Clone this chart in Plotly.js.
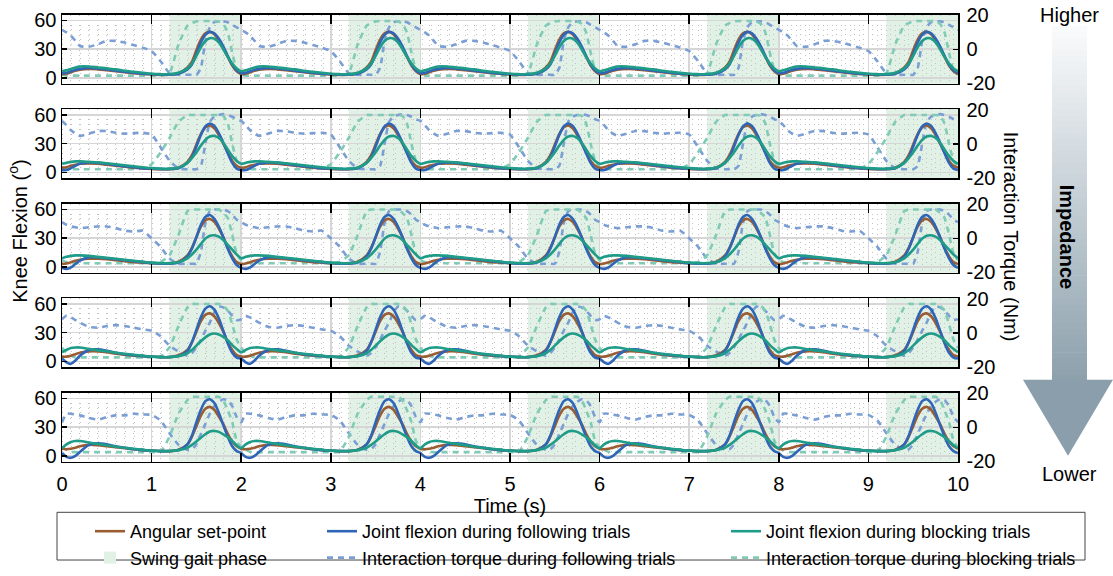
<!DOCTYPE html>
<html><head><meta charset="utf-8">
<script src="https://cdn.plot.ly/plotly-3.0.1.min.js"></script>
<style>html,body{margin:0;padding:0;background:#fff}#chart{width:1113px;height:576px}</style>
</head><body><div id="chart"></div>
<script>
// ---------- DATA (one gait cycle; the 10 s record repeats it every 2 s) ----------
const cyclePeriod = 2;
const nCycles = 5;
const cycleT = [0,0.05,0.1,0.15,0.2,0.3,0.4,0.5,0.6,0.7,0.8,0.9,1.0,1.1,1.2,1.3,1.4,1.45,1.5,1.55,1.6,1.65,1.7,1.75,1.8,1.85,1.9,1.95];

// Panel 1 (highest impedance)
const setP1      = [4,4.5,6,7.5,8.5,9.5,9,8,7,6,5,4.3,3.7,3.3,3.5,5,11,17,29,40,46.5,48,45.5,39,31,22,13,7];
const followP1   = [5,5.5,7,8.5,9.5,10.5,10,9,7.5,6.5,5.5,4.5,4,3.5,3.5,4.5,9,14,25,37,45,48,46.5,41,33,23,14,8];
const blockP1    = [7,8,9.5,11,12,12,11,10,9,7.5,6.5,5.5,4.5,4,4,5.5,10,15,23,32,38.5,41.5,41,37,30,22,15,10];
const tqFollowP1 = [11.5,10,8,5,2,1.5,3,5,5,4,2.5,1,-1,-7,-14,-15,-15,-15,-15,-11,5,13,16,16.5,16.5,16,14.5,13];
const tqBlockP1  = [-15,-15.5,-15.5,-15.5,-15.5,-15.5,-15.5,-15.5,-15.5,-15.5,-15.5,-15.5,-15.5,-15.5,-14,3,14,15.5,16.5,16.7,16.7,16.7,16.7,16.5,15,10,-2,-12];
// Panel 2
const setP2      = [5,5.5,7,8,9,9.5,9,8,7,6,5,4.3,3.7,3.3,3.5,5,11,18,29,40,47,49,46,39,30,21,12,7];
const followP2   = [2.5,2.5,4.5,7,9,10.5,10,9,7.5,6.5,5.5,4.5,4,3.5,3.5,4.5,10,16,27,39,48,51,48.5,41,31,20,10,4];
const blockP2    = [9,10,11,11.5,11.5,11,10.5,9.5,8.5,7.5,6.5,5.5,4.5,4,4,5,10,15,21,28,34,37.5,38,36,31,24,17,12];
const tqFollowP2 = [13.5,11,8,6,4.7,6,7.6,7.5,6.5,6,6.3,6.5,5.5,-2,-10,-14.5,-15,-15,-15,-13,0,13,16,17,17.5,17,16,14.5];
const tqBlockP2  = [-14,-14.5,-15,-15,-15,-15,-15,-15,-15,-15,-15,-14.5,-12,-5,3.5,13,17,17,17,17,17,17,17,17,16.5,12,0,-10];
// Panel 3
const setP3      = [3,3.5,5,6.5,7.5,8.5,8.5,8,7,6,5,4.5,4,3.5,3.5,5.5,12,20,31,42,48.5,50,47,40,31,20,11,5];
const followP3   = [-1,-2,-0.5,3,6.5,10,10,9,8,7,6,5,4,3.5,3.5,4.5,11,19,31,44,52,54,50,42,31,19,9,2];
const blockP3    = [9,10.5,11.5,12,12,11.5,10.5,9.5,8.5,7.5,6.5,5.5,4.5,4,4,5,9,13,18,24,29.5,32.5,33,31.5,28,23,18,13];
const tqFollowP3 = [9.5,8,7,6.5,6,6.5,7,7,6,4.5,4,4.5,0,-5,-12,-15,-15,-15,-15,-8,9,16,17,17,17,16,14,11];
const tqBlockP3  = [-13,-14,-14.7,-14.7,-14.7,-14.7,-14.7,-14.7,-14.7,-14.7,-14.7,-14.7,-14.7,-14,-10,2,16,17,17,17,17,17,17,17,15,12,2,-9];
// Panel 4
const setP4      = [5,5,6,7.5,9,10.5,10.5,9.5,8,7,6,5.5,5,4.5,4.5,6.5,12,20,31,42,48.5,50,47,40,31,20,12,6.5];
const followP4   = [3,-1,-2.5,1,6,12,12.5,11,9,7.5,6.5,5.5,5,4.5,4.5,5.5,11,20,33,46,55,57.5,54,45,32,19,9,4];
const blockP4    = [9.5,12,14,14.5,14.5,13,11.5,10.5,9,8,7,6,5,4.5,4.5,5.5,8.5,12,16.5,21,25,28,29,28,25.5,22,17,13];
const tqFollowP4 = [8,10,9,7.5,6,3.5,3,4,4.5,4,3,2,1.2,-2,-7.6,-11,-13.5,-12,-8.6,-4,1.2,6,12,15.5,15,13,10,7.5];
const tqBlockP4  = [-9,-11.6,-13.5,-14.5,-14.5,-14.5,-14.5,-14.5,-14.5,-14.5,-14.5,-14.5,-14.5,-14,-8.6,4,15,17,17,17,17,17,17,17,16,13,5,-4];
// Panel 5 (lowest impedance)
const setP5      = [7.5,7,7.5,8.5,10,11.5,11,10,9,8,7,6,5.5,5,5,6.5,12,20,31,42,49,51,48,41,33,23,15,10];
const followP5   = [3,-1,-2,0,4,11.5,13,12,10,8.5,7,6,5.5,5,5,6,12,21,35,48,57,59,55,45,32,20,10,5];
const blockP5    = [8,12,14.5,15.5,15.5,14,12.5,11,9.5,8.5,7.5,6.5,5.5,5,5,6,8.5,11.5,15,19,22.5,25.5,26,25,22.5,19.5,15.5,11];
const tqFollowP5 = [3,8,8,7.5,7,5.5,4.5,6,7,7,8,7.5,7.3,4,-3.5,-10.4,-13.3,-13,-10,-4,2,8,12.5,15,16.5,16,12.5,6];
const tqBlockP5  = [-12,-13.3,-14.5,-14.7,-14.7,-14.7,-14.7,-14.7,-14.7,-14.7,-14.7,-14.7,-14.7,-14.5,-5.5,8,16,18,18,18,18,18,18,18,16,10,3,-8];

const swingStart = [1.2, 3.2, 5.2, 7.2, 9.2];
const swingEnd   = [2.0, 4.0, 6.0, 8.0, 10.0];

const kneeTicks = [0, 30, 60];
const torqueTickVals = [-20, 0, 20];
const torqueTickText = ['-20', '0', '20'];

const names = {
  set: 'Angular set-point',
  follow: 'Joint flexion during following trials',
  block: 'Joint flexion during blocking trials',
  swing: 'Swing gait phase',
  tqFollow: 'Interaction torque during following trials',
  tqBlock: 'Interaction torque during blocking trials'
};

// ---------- STYLE ----------
const FONT = 'Liberation Sans, Arial, Helvetica, sans-serif';
const C = {
  set: '#9a5c32', follow: '#2f65b6', block: '#1f9c88',
  tqFollow: '#7b9fd5', tqBlock: '#80cbb6', swing: 'rgb(226,241,229)',
  grid: '#d6d6d6', minor: '#c2c2c2'
};
const W = 1113, H = 576, ML = 62, MR = 155;
const PW = W - ML - MR;
const px2x = px => (px - ML) / PW;
const py2y = py => 1 - py / H;
const panelPx = [[15,86],[112,183],[209,280],[306,377],[403,474]];

const panels = [
  {set:setP1, follow:followP1, block:blockP1, tqF:tqFollowP1, tqB:tqBlockP1},
  {set:setP2, follow:followP2, block:blockP2, tqF:tqFollowP2, tqB:tqBlockP2},
  {set:setP3, follow:followP3, block:blockP3, tqF:tqFollowP3, tqB:tqBlockP3},
  {set:setP4, follow:followP4, block:blockP4, tqF:tqFollowP4, tqB:tqBlockP4},
  {set:setP5, follow:followP5, block:blockP5, tqF:tqFollowP5, tqB:tqBlockP5}
];

function tile(vals) {
  const x = [], y = [];
  for (let k = 0; k < nCycles; k++) {
    for (let j = 0; j < cycleT.length; j++) { x.push(cycleT[j] + k * cyclePeriod); y.push(vals[j]); }
  }
  x.push(nCycles * cyclePeriod); y.push(vals[0]);
  return {x, y};
}

const traces = [];
const layout = {
  width: W, height: H,
  margin: {l: ML, r: MR, t: 0, b: 0, pad: 0},
  paper_bgcolor: '#fff', plot_bgcolor: '#fff',
  font: {family: FONT, size: 20, color: '#000'},
  showlegend: true,
  hovermode: false,
  shapes: [], annotations: []
};

panels.forEach((p, i) => {
  const n = i + 1;
  const xa = n === 1 ? 'x' : 'x' + n;
  const yT = n === 1 ? 'y' : 'y' + n;     // torque (base, right)
  const yK = 'y' + (n + 5);                 // knee flexion (overlay, left)
  const first = i === 0;
  const dom = [py2y(panelPx[i][1]), py2y(panelPx[i][0])];

  const tf = tile(p.tqF), tb = tile(p.tqB);
  traces.push({x: tf.x, y: tf.y, xaxis: xa, yaxis: yT, type: 'scatter', mode: 'lines',
    name: names.tqFollow, legend: 'legend2', legendrank: 2, showlegend: first,
    line: {color: C.tqFollow, width: 2.6, dash: '6px,5px', shape: 'spline', smoothing: 0.5}});
  traces.push({x: tb.x, y: tb.y, xaxis: xa, yaxis: yT, type: 'scatter', mode: 'lines',
    name: names.tqBlock, legend: 'legend3', legendrank: 2, showlegend: first,
    line: {color: C.tqBlock, width: 2.6, dash: '6px,5px', shape: 'spline', smoothing: 0.5}});

  const s = tile(p.set), f = tile(p.follow), b = tile(p.block);
  traces.push({x: s.x, y: s.y, xaxis: xa, yaxis: yK, type: 'scatter', mode: 'lines',
    name: names.set, legend: 'legend', legendrank: 1, showlegend: first,
    line: {color: C.set, width: 2.6, shape: 'spline', smoothing: 0.8}});
  traces.push({x: f.x, y: f.y, xaxis: xa, yaxis: yK, type: 'scatter', mode: 'lines',
    name: names.follow, legend: 'legend2', legendrank: 1, showlegend: first,
    line: {color: C.follow, width: 2.6, shape: 'spline', smoothing: 0.8}});
  traces.push({x: b.x, y: b.y, xaxis: xa, yaxis: yK, type: 'scatter', mode: 'lines',
    name: names.block, legend: 'legend3', legendrank: 1, showlegend: first,
    line: {color: C.block, width: 2.6, shape: 'spline', smoothing: 0.8}});

  layout['xaxis' + (n === 1 ? '' : n)] = {
    domain: [0, 1], anchor: yT, range: [0, 10], matches: n === 1 ? undefined : 'x',
    tickmode: 'linear', tick0: 0, dtick: 1,
    ticks: 'inside', ticklen: 9, tickwidth: 1.5, tickcolor: '#000',
    showline: true, linecolor: '#000', linewidth: 1.5, mirror: 'ticks',
    showgrid: true, gridcolor: C.grid, gridwidth: 1.5, zeroline: false,
    minor: {dtick: 0.1, tick0: 0, showgrid: true, gridcolor: C.minor, griddash: '1px,4px', gridwidth: 1, ticks: ''},
    showticklabels: n === 5, tickfont: {size: 20, family: FONT}, ticklabelstandoff: 4,
    title: n === 5 ? {text: 'Time (s)', font: {size: 20, family: FONT}, standoff: 4} : undefined
  };
  layout['yaxis' + (n === 1 ? '' : n)] = {
    domain: dom, anchor: xa, side: 'right', range: [-20.3, 20.5],
    tickmode: 'array', tickvals: torqueTickVals, ticktext: torqueTickText,
    ticks: 'inside', ticklen: 5, tickwidth: 1.5, tickcolor: '#000',
    showline: true, linecolor: '#000', linewidth: 1.5, ticklabelstandoff: 3,
    showgrid: false, zeroline: false, tickfont: {size: 20, family: FONT}
  };
  layout['yaxis' + (n + 5)] = {
    overlaying: yT, anchor: xa, side: 'left', range: [-6, 66],
    tickmode: 'array', tickvals: kneeTicks,
    ticks: 'inside', ticklen: 5, tickwidth: 1.5, tickcolor: '#000',
    showline: true, linecolor: '#000', linewidth: 1.5,
    showgrid: true, gridcolor: C.grid, gridwidth: 1.5, zeroline: false,
    minor: {dtick: 5, tick0: 0, showgrid: true, gridcolor: C.minor, griddash: '1px,8px', gridwidth: 1, ticks: ''},
    tickfont: {size: 20, family: FONT}
  };

  swingStart.forEach((x0, k) => {
    const sh = {type: 'rect', xref: xa, yref: yT + ' domain', x0: x0, x1: swingEnd[k], y0: 0, y1: 1,
      fillcolor: C.swing, line: {width: 0}, layer: 'below'};
    if (first && k === 0) { sh.showlegend = true; sh.name = names.swing; sh.legend = 'legend'; sh.legendrank = 2; }
    layout.shapes.push(sh);
  });
});

// Legends (three columns) and their frame
const legBase = {orientation: 'v', bgcolor: 'rgba(0,0,0,0)', borderwidth: 0, xanchor: 'left',
  yanchor: 'top', y: py2y(527), font: {size: 18, family: FONT, color: '#000'}, tracegroupgap: 0, itemwidth: 30};
layout.legend  = Object.assign({}, legBase, {x: px2x(90)});
layout.legend2 = Object.assign({}, legBase, {x: px2x(322)});
layout.legend3 = Object.assign({}, legBase, {x: px2x(726)});
layout.shapes.push({type: 'rect', xref: 'paper', yref: 'paper', x0: px2x(57), x1: px2x(1085),
  y0: py2y(575), y1: py2y(526), line: {color: '#444', width: 1}, fillcolor: 'rgba(0,0,0,0)', layer: 'below'});

// Impedance gradient arrow
const gTop = [250, 251, 252], gBot = [140, 160, 172];
const NG = 60, shaftTop = 27, shaftBot = 392;
for (let i = 0; i < NG; i++) {
  const t = (i + 0.5) / NG;
  const c = gTop.map((v, j) => Math.round(v + (gBot[j] - v) * t));
  const p0 = shaftTop + (shaftBot - shaftTop) * i / NG;
  const p1 = shaftTop + (shaftBot - shaftTop) * (i + 1) / NG + 0.7;
  layout.shapes.push({type: 'rect', xref: 'paper', yref: 'paper', x0: px2x(1052), x1: px2x(1087),
    y0: py2y(p1), y1: py2y(p0), fillcolor: `rgb(${c[0]},${c[1]},${c[2]})`, line: {width: 0}, layer: 'above'});
}
layout.shapes.push({type: 'path', xref: 'paper', yref: 'paper',
  path: `M${px2x(1023)},${py2y(390)} L${px2x(1113)},${py2y(390)} L${px2x(1068)},${py2y(468)} Z`,
  fillcolor: 'rgb(138,159,171)', line: {width: 0}, layer: 'above'});

// Titles and labels
const ann = (text, px, py, extra) => Object.assign({text, xref: 'paper', yref: 'paper', x: px2x(px), y: py2y(py),
  xanchor: 'center', yanchor: 'middle', showarrow: false, font: {size: 20, family: FONT, color: '#000'}}, extra || {});
layout.annotations.push(ann('Knee Flexion (<sup>o</sup>)', 18, 238, {textangle: -90}));
layout.annotations.push(ann('Interaction Torque (Nm)', 1011, 243, {textangle: 90}));
layout.annotations.push(ann('<b>Impedance</b>', 1067, 243, {textangle: 90}));
layout.annotations.push(ann('Higher', 1069, 15));
layout.annotations.push(ann('Lower', 1069, 487));

Plotly.newPlot('chart', traces, layout, {staticPlot: true, displayModeBar: false});
</script></body></html>
